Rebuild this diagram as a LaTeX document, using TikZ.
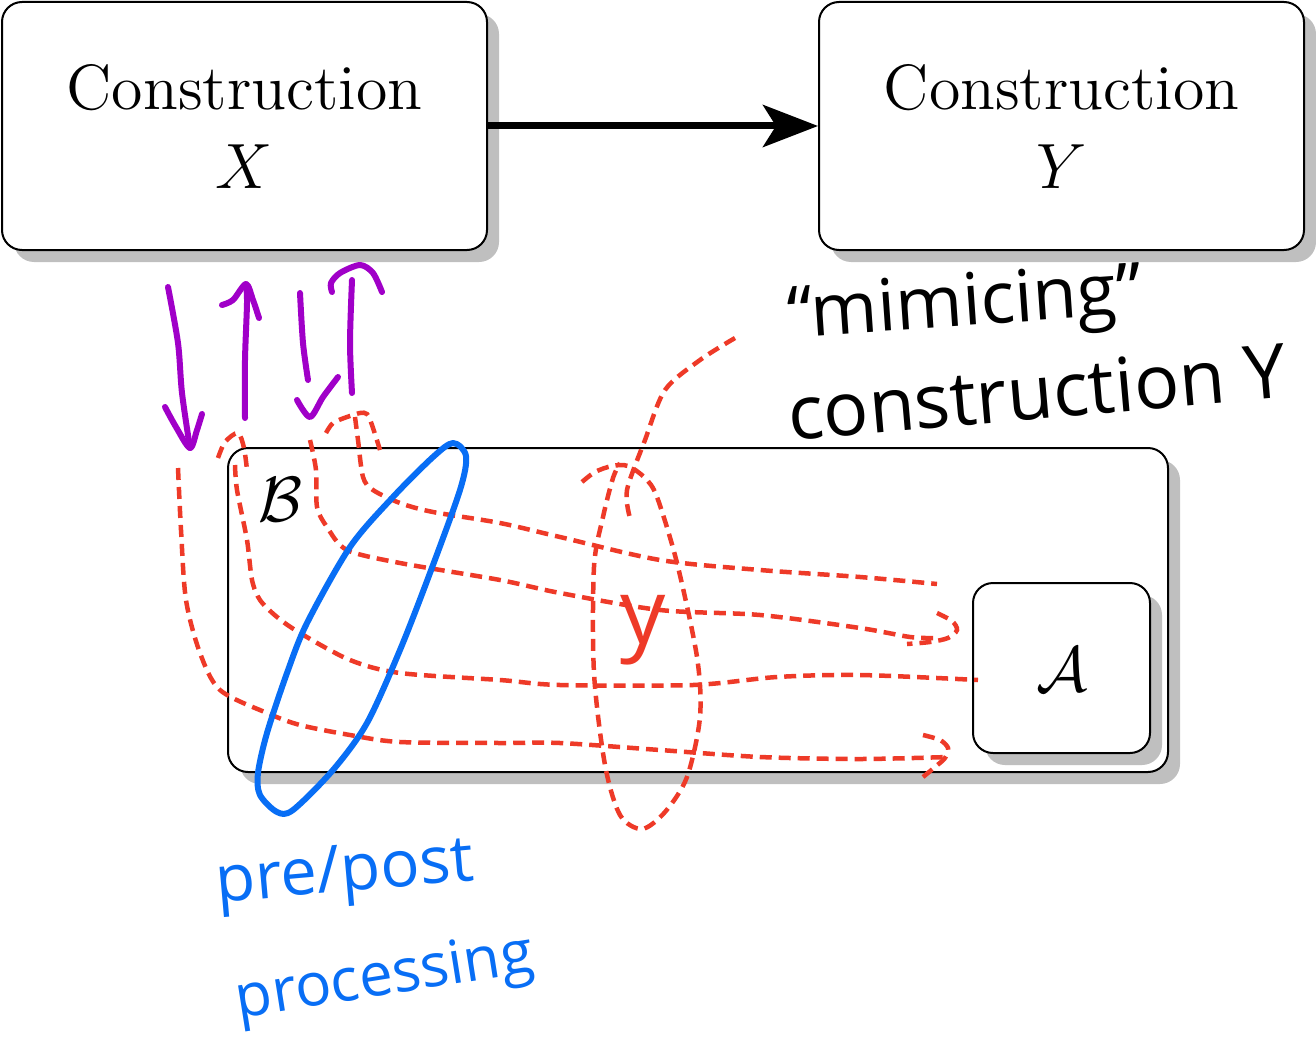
\documentclass[tikz,border=0pt]{standalone}
\usepackage{fix-cm}
\usepackage{fontspec}
\newfontfamily\hand{Open Sans}
\newfontfamily\lmtw{lmroman12-regular.otf}
\usetikzlibrary{arrows.meta,shadows}
\definecolor{penred}{RGB}{238,58,40}
\definecolor{penpurple}{RGB}{160,0,200}
\definecolor{penblue}{RGB}{8,110,245}
\tikzset{
  box/.style={draw=black, line width=2pt, rounded corners=20pt, fill=white,
    drop shadow={shadow xshift=12pt, shadow yshift=-12pt, fill=black!25, opacity=1}},
  bigfont/.style={font=\lmtw\fontsize{64}{78}\selectfont, inner sep=0pt},
  reddash/.style={draw=penred, line width=4.5pt, dash pattern=on 12pt off 7pt},
  purplepen/.style={draw=penpurple, line width=6pt, line cap=round, line join=round},
  bluepen/.style={draw=penblue, line width=6pt, line cap=round, line join=round},
  handtext/.style={inner sep=0pt, font=\hand\fontsize{#1}{#1}\selectfont},
}
\begin{document}
\begin{tikzpicture}[x=1pt,y=-1pt]
\useasboundingbox (0,0) rectangle (1316,1038);
% main boxes
\node[box, minimum width=485pt, minimum height=248pt] (X) at (244.5,126) {};
\node[box, minimum width=485pt, minimum height=248pt] (Y) at (1061.5,126) {};
\node[bigfont, anchor=base] (Xt1) at (244.5,110) {Construction};
\node[bigfont, anchor=base] (Xt2) at (244.5,188) {$X$};
\node[bigfont, anchor=base] (Yt1) at (1061.5,110) {Construction};
\node[bigfont, anchor=base] (Yt2) at (1061.5,188) {$Y$};
\draw[line width=7pt, -{Stealth[length=55pt,width=42pt,inset=13pt]}] (X) -- (Y);
\node[box, minimum width=940pt, minimum height=324pt] (B) at (698,610) {};
\node[box, minimum width=177pt, minimum height=170pt] (A) at (1061.5,668) {};
\node[bigfont] (Bt) at (280,500) {$\mathcal{B}$};
\node[bigfont] (At) at (1062,670) {$\mathcal{A}$};

% purple arrows
\draw[purplepen] plot[smooth] coordinates {(168,287) (178,343) (182,393) (190,448)};
\draw[purplepen] plot[smooth] coordinates {(165,407) (176,427) (190,448) (197,430) (202,414)};
\draw[purplepen] plot[smooth] coordinates {(245,418) (245,360) (247,303) (246,284)};
\draw[purplepen] plot[smooth] coordinates {(222,305) (233,300) (246,284) (253,300) (259,318)};
\draw[purplepen] plot[smooth] coordinates {(300,293) (303,343) (308,380)};
\draw[purplepen] plot[smooth] coordinates {(297,400) (310,417) (323,397) (338,377)};
\draw[purplepen] plot[smooth] coordinates {(352,393) (350,343) (352,280)};
\draw[purplepen] plot[smooth] coordinates {(332,292) (331,283) (340,273) (360,265) (373,273) (382,292)};

% red dashed paths
\draw[reddash] plot[smooth] coordinates {(178,468) (181,530) (186,600) (200,653) (220,690) (267,713) (300,725) (350,735) (400,742) (500,743) (560,743) (660,750) (760,757) (860,759) (948,757)};
\draw[reddash] plot[smooth] coordinates {(923,735) (940,740) (948,748) (945,758) (935,767) (923,777)};
\draw[reddash] plot[smooth] coordinates {(218,458) (225,442) (238,433) (244,448) (247,470)};
\draw[reddash] plot[smooth] coordinates {(235,465) (237,490) (247,540) (252,580) (260,600) (277,617) (300,633) (350,660) (400,673) (500,680) (560,685) (693,685) (777,677) (860,675) (978,680)};
\draw[reddash] plot[smooth] coordinates {(310,440) (316,470) (317,507) (327,527) (347,550) (400,563) (500,580) (560,593) (660,610) (760,615) (860,628) (910,637) (935,638)};
\draw[reddash] plot[smooth] coordinates {(937,613) (952,621) (957,630) (948,638) (930,642) (907,644)};
\draw[reddash] plot[smooth] coordinates {(326,433) (333,423) (347,417) (360,413) (367,414) (372,425) (380,450)};
\draw[reddash] plot[smooth] coordinates {(355,417) (358,440) (363,477) (373,490) (400,503) (433,512) (500,523) (560,537) (660,560) (760,570) (860,577) (937,584)};
\draw[reddash] plot[smooth] coordinates {(582,482) (595,472) (612,466) (628,466) (645,478) (657,497) (677,563) (697,657) (700,717) (687,777) (665,812) (642,829) (620,815) (605,765) (594,673) (594,567) (603,517) (613,478) (620,463)};
\draw[reddash] plot[smooth] coordinates {(735,338) (700,360) (665,390) (645,440) (627,490) (630,518)};
\node[handtext=90, text=penred] (ylab) at (643,630) {y};

% blue loop
\draw[bluepen] plot[smooth cycle] coordinates {(453,443) (466,456) (460,490) (430,573) (400,650) (367,723) (333,770) (293,810) (277,812) (260,795) (258,773) (267,733) (287,673) (307,623) (350,547) (393,497) (433,457)};

% handwritten labels
\node[handtext=72, rotate=4] (mim) at (965,308) {“mimicing”};
\node[handtext=75, rotate=5] (cons) at (1037,392) {construction Y};
\node[handtext=65, rotate=5, text=penblue] (pre) at (345,876) {pre/post};
\node[handtext=60, rotate=9, text=penblue] (proc) at (385,980) {processing};
\end{tikzpicture}
\end{document}
